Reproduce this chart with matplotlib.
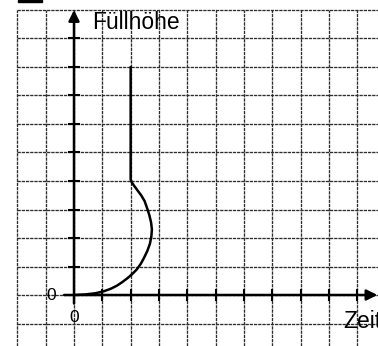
import matplotlib
matplotlib.use("Agg")
import matplotlib.pyplot as plt
from matplotlib.patches import Rectangle

# Füllhöhe-Zeit graph on squared paper
curve_h = [0.0, 0.02, 0.06, 0.13, 0.22, 0.33, 0.45, 0.6, 0.75, 0.9, 1.1, 1.3, 1.55, 1.8, 2.05,
           2.3, 2.55, 2.8, 3.05, 3.3, 3.5, 3.7, 3.85, 3.95, 4.05, 8.0]
curve_t = [0.0, 0.4, 0.75, 1.05, 1.3, 1.52, 1.7, 1.9, 2.07, 2.22, 2.36, 2.47, 2.59, 2.68, 2.73,
           2.75, 2.72, 2.66, 2.58, 2.49, 2.37, 2.22, 2.11, 2.04, 2.0, 2.0]
x_ticks = list(range(1, 12))
y_ticks = list(range(1, 10))
x_label = "Zeit"
y_label = "Füllhöhe"

# pixel scale of the squares (one square = 1 unit)
px_x, px_y = 28.33, 28.5
W, H = 378, 346
ox, oy = 74, 295

fig = plt.figure(figsize=(W / 100, H / 100), dpi=100)
ax = fig.add_axes([0, 0, 1, 1])
ax.set_xlim(-ox / px_x, (W - ox) / px_x)
ax.set_ylim(-(H - oy) / px_y, oy / px_y)
ax.axis("off")

xmin, xmax = ax.get_xlim()
ymin, ymax = ax.get_ylim()

# grid paper
grid_kw = dict(color="#2e2e2e", lw=0.95, linestyle=(0, (2.5, 0.7)), zorder=1)
ax.vlines(range(-2, 13), ymin, 10, **grid_kw)
ax.hlines(range(-1, 11), -2, xmax, **grid_kw)

# axes with arrows
arr = dict(arrowstyle="-|>", lw=1.8, color="k", mutation_scale=16, shrinkA=0, shrinkB=0)
ax.annotate("", xy=(xmax - 0.02, 0), xytext=(-0.35, 0), arrowprops=arr, zorder=3)
ax.annotate("", xy=(0, 10.0), xytext=(0, -0.3), arrowprops=arr, zorder=3)

for t in x_ticks:
    ax.plot([t, t], [-0.16, 0.16], color="k", lw=1.5, zorder=3)
for h in y_ticks:
    ax.plot([-0.16, 0.16], [h, h], color="k", lw=1.5, zorder=3)

ax.text(-0.8, 0, "0", fontsize=12.5, ha="center", va="center", family="Liberation Sans")
ax.text(0, -0.8, "0", fontsize=12.5, ha="center", va="center", family="Liberation Sans")
ax.text(0.65, (oy - 29) / px_y, y_label, fontsize=16.5, ha="left", va="baseline", family="Liberation Sans")
ax.text((343 - ox) / px_x, -(328 - oy) / px_y, x_label, fontsize=16.5, ha="left", va="baseline", family="Liberation Sans")

# graph
ax.plot(curve_t, curve_h, color="k", lw=1.8, solid_capstyle="round", solid_joinstyle="round", zorder=4)

# small box at the top edge
fig.patches.append(Rectangle((18 / W, 1 - 2 / H), 24 / W, 2 / H, transform=fig.transFigure, color="k"))

fig.savefig("out.png", dpi=100)
